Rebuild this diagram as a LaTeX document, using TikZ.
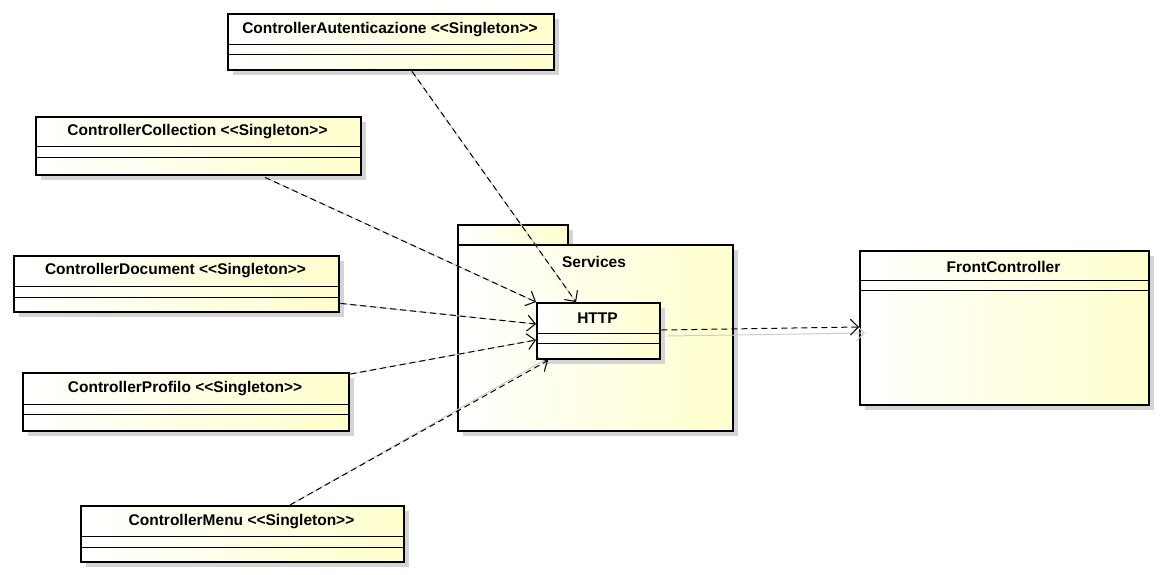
\documentclass[tikz,border=0pt]{standalone}
\usepackage{fontspec}
\setmainfont{Liberation Sans}
\usetikzlibrary{arrows.meta,calc}
\definecolor{ucy}{RGB}{255,255,205}
\definecolor{shadowc}{RGB}{212,212,212}
\definecolor{lineshadow}{RGB}{205,205,205}
\tikzset{
  boxframe/.style={draw=black,line width=2.4pt,left color=white,right color=ucy,inner sep=0pt,anchor=north west},
  boxshadow/.style={fill=shadowc,draw=none},
  sepline/.style={draw=black,line width=0.9pt},
  lbl/.style={font=\fontsize{15.5}{17}\selectfont\bfseries,inner sep=0pt},
  dep/.style={dashed,dash pattern=on 6pt off 4pt,line width=1pt,-{Straight Barb[length=8pt,width=16pt,line width=1pt]}},
  depshadow/.style={draw=lineshadow,line width=1pt,-{Straight Barb[length=8pt,width=16pt,line width=1pt]}}
}
% name, x1, y1, x2, y2, sep1, sep2, text, text y
\newcommand\umlclassbox[9]{%
  \fill[boxshadow] (#2+6,#3+6) rectangle (#4+6,#5+6);
  \node[boxframe,minimum width={(#4-#2)*1pt},minimum height={(#5-#3)*1pt}] (#1) at (#2,#3) {};
  \draw[sepline] (#2,#6) -- (#4,#6);
  \draw[sepline] (#2,#7) -- (#4,#7);
  \node[lbl] (#1-t) at ({(#2+#4)/2},#9) {#8};
}
\begin{document}
\begin{tikzpicture}[x=1pt,y=-1pt]
\useasboundingbox (0,0) rectangle (1162,574);
\fill[white] (0,0) rectangle (1162,574);

% package Services
\fill[boxshadow] (463,250) rectangle (738,436);
\fill[boxshadow] (463,230) rectangle (573,250);
\node[boxframe,minimum width=110pt,minimum height=20pt] (tab) at (457,224) {};
\node[boxframe,minimum width=275pt,minimum height=186pt] (pkg) at (457,244) {};
\node[lbl] (pkgt) at (594,262) {Services};

% classes
\umlclassbox{cA}{227}{13}{553}{69}{44}{54}{ControllerAutenticazione <{}<Singleton>{}>}{30}
\umlclassbox{cC}{35}{116}{360}{174}{146}{157}{ControllerCollection <{}<Singleton>{}>}{132}
\umlclassbox{cD}{13}{255}{338}{311}{286}{297}{ControllerDocument <{}<Singleton>{}>}{271}
\umlclassbox{cP}{22}{372}{348}{430}{404}{414}{ControllerProfilo <{}<Singleton>{}>}{389}
\umlclassbox{cM}{80}{505}{403}{561}{536}{547}{ControllerMenu <{}<Singleton>{}>}{522}
\umlclassbox{fc}{859}{250}{1148}{404}{280}{290}{FrontController}{267}

% connector shadows
\begin{scope}[shift={(6,6)}]
\draw[depshadow] ($(cA.south west)+(185,0)$) -- ($(pkg.north west)+(119,58)$);
\draw[depshadow] ($(cC.south west)+(230,1)$) -- ($(pkg.north west)+(79,58)$);
\draw[depshadow] ($(cD.south east)+(0,-10)$) -- ($(pkg.north west)+(79,80)$);
\draw[depshadow] ($(cP.north east)+(0,2)$) -- ($(pkg.north west)+(79,96)$);
\draw[depshadow] ($(cM.north west)+(210,0)$) -- ($(pkg.north west)+(91,114)$);
\end{scope}

% HTTP class
\umlclassbox{http}{536}{302}{659}{358}{333}{343}{HTTP}{318}

\draw[depshadow] ($(http.north east)+(6,34)$) -- ($(fc.north west)+(6,83)$);

% connectors
\draw[dep] ($(cA.south west)+(185,0)$) -- ($(http.north west)+(40,0)$);
\draw[dep] ($(cC.south west)+(230,1)$) -- (http.north west);
\draw[dep] ($(cD.south east)+(0,-10)$) -- ($(http.north west)+(0,22)$);
\draw[dep] ($(cP.north east)+(0,2)$) -- ($(http.north west)+(0,38)$);
\draw[dep] ($(cM.north west)+(210,0)$) -- ($(http.south west)+(12,0)$);
\draw[dep] ($(http.north east)+(0,28)$) -- ($(fc.north west)+(0,77)$);
\end{tikzpicture}
\end{document}
